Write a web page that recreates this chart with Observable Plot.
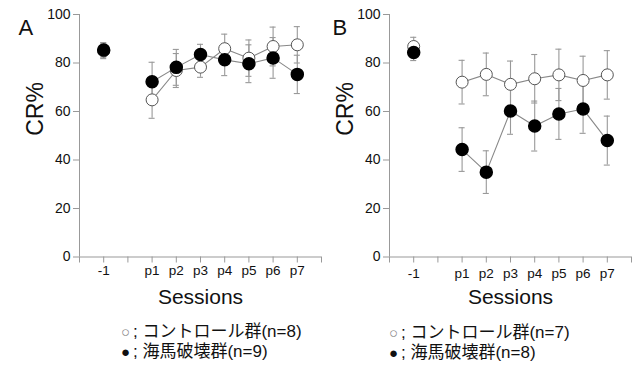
<!DOCTYPE html>
<html>
<head>
<meta charset="utf-8">
<script src="https://cdn.jsdelivr.net/npm/d3@7"></script>
<script src="https://cdn.jsdelivr.net/npm/@observablehq/plot@0.6"></script>
<style>
  html, body { margin: 0; padding: 0; background: #fff; }
  #wrap { position: relative; width: 633px; height: 365px; font-family: "Liberation Sans", Arial, "Noto Sans CJK JP", sans-serif; color: #111; }
  .panel { position: absolute; top: 0; }
  .legend { position: absolute; font-size: 17px; white-space: nowrap; font-family: "Liberation Sans", Arial, "Noto Sans CJK JP", sans-serif; color: #111; }
  .legend div { height: 19.5px; line-height: 19.5px; overflow: visible; }
  .sym { font-size: 15px; display: inline-block; width: 12px; }
  .open { color: #888; }
</style>
</head>
<body>
<div id="wrap"></div>
<script>
// ---- data ----
const tickLabels = ["", "-1", "", "p1", "p2", "p3", "p4", "p5", "p6", "p7", ""];
const sessions = ["-1", "p1", "p2", "p3", "p4", "p5", "p6", "p7"];
const yTicks = [0, 20, 40, 60, 80, 100];

const aControl   = [85.0, 64.8, 76.9, 78.3, 85.9, 82.0, 86.8, 87.5];
const aControlSE = [3.2, 7.6, 7.0, 4.2, 6.0, 7.5, 8.0, 7.5];
const aLesion    = [85.4, 72.3, 78.2, 83.5, 81.3, 79.7, 82.1, 75.3];
const aLesionSE  = [3.0, 8.0, 7.4, 4.2, 6.5, 7.8, 8.4, 7.9];

const bControl   = [86.8, 72.1, 75.3, 71.2, 73.5, 75.1, 72.8, 75.1];
const bControlSE = [3.8, 9.0, 8.8, 9.6, 10.0, 10.6, 10.0, 10.0];
const bLesion    = [84.3, 44.3, 35.0, 60.2, 54.0, 59.0, 61.0, 48.0];
const bLesionSE  = [3.3, 9.0, 8.8, 9.6, 10.3, 10.5, 10.0, 10.1];

const panelLabels = ["A", "B"];
const groupNames = ["コントロール群", "海馬破壊群"];
const nA = [8, 9];
const nB = [7, 8];

// ---- build ----
function rows(vals, se, group) {
  return sessions.map((s, i) => ({session: s, pos: tickLabels.indexOf(s), v: vals[i], se: se[i], group}));
}

const CAP = 0.125; // half cap width in x units
const FONT = '"Liberation Sans", Arial, "Noto Sans CJK JP", sans-serif';

function panel(label, ctrl, ctrlSE, les, lesSE, opts) {
  const c = rows(ctrl, ctrlSE, "c");
  const l = rows(les, lesSE, "l");
  const errMarks = (d) => [
    Plot.ruleX(d, {x: "pos", y1: r => r.v - r.se, y2: r => r.v + r.se, stroke: "#999", strokeWidth: 1.1}),
    Plot.ruleY(d, {y: r => r.v + r.se, x1: r => r.pos - CAP, x2: r => r.pos + CAP, stroke: "#999", strokeWidth: 1.1}),
    Plot.ruleY(d, {y: r => r.v - r.se, x1: r => r.pos - CAP, x2: r => r.pos + CAP, stroke: "#999", strokeWidth: 1.1})
  ];
  return Plot.plot({
    width: opts.width,
    height: 312,
    marginLeft: opts.marginLeft,
    marginRight: opts.marginRight,
    marginTop: 14,
    marginBottom: 55.5,
    style: {fontFamily: FONT, color: "#111", background: "white", overflow: "visible"},
    x: {domain: [0, 10], axis: null},
    y: {domain: [0, 100], axis: null},
    marks: [
      Plot.ruleX([0], {stroke: "#999"}),
      Plot.ruleY([0], {stroke: "#999"}),
      Plot.axisY({ticks: yTicks, tickSize: 6, tickPadding: 3, fontSize: 14, stroke: "#999", label: null}),
      Plot.axisX({ticks: d3.range(tickLabels.length), tickFormat: i => tickLabels[i], tickSize: 6, tickPadding: opts.xPad, fontSize: 13.5, stroke: "#999", label: null}),
      Plot.text(["Sessions"], {frameAnchor: "bottom", dy: 47, fontSize: 21, fill: "#111"}),
      Plot.text(["CR%"], {frameAnchor: "left", dx: -44, rotate: -90, fontSize: 23, fill: "#111"}),
      Plot.text([label], {frameAnchor: "top-left", dx: opts.labelDx, dy: 5, fontSize: 22, textAnchor: "start", fill: "#111"}),
      ...errMarks(c),
      ...errMarks(l),
      Plot.line(c.filter(r => r.session !== "-1"), {x: "pos", y: "v", stroke: "#888", strokeWidth: 1.1}),
      Plot.line(l.filter(r => r.session !== "-1"), {x: "pos", y: "v", stroke: "#888", strokeWidth: 1.1}),
      Plot.dot(c, {x: "pos", y: "v", r: 6, fill: "white", stroke: "#555", strokeWidth: 1}),
      Plot.dot(l, {x: "pos", y: "v", r: 6, fill: "black", stroke: "black"})
    ]
  });
}

const wrap = document.getElementById("wrap");
const pA = panel(panelLabels[0], aControl, aControlSE, aLesion, aLesionSE, {width: 325, marginLeft: 79, marginRight: 4, xPad: 2, labelDx: -61});
pA.classList.add("panel"); pA.style.left = "0px";
const pB = panel(panelLabels[1], bControl, bControlSE, bLesion, bLesionSE, {width: 308, marginLeft: 64, marginRight: 2, xPad: 5, labelDx: -57});
pB.classList.add("panel"); pB.style.left = "325px";
wrap.appendChild(pA);
wrap.appendChild(pB);

function legend(left, top, ns) {
  const d = document.createElement("div");
  d.className = "legend";
  d.style.left = left + "px";
  d.style.top = top + "px";
  d.innerHTML =
    `<div><span class="sym open">○</span>; ${groupNames[0]}(n=${ns[0]})</div>` +
    `<div><span class="sym">●</span>; ${groupNames[1]}(n=${ns[1]})</div>`;
  wrap.appendChild(d);
}
legend(121, 322, nA);
legend(389, 323, nB);
</script>
</body>
</html>
